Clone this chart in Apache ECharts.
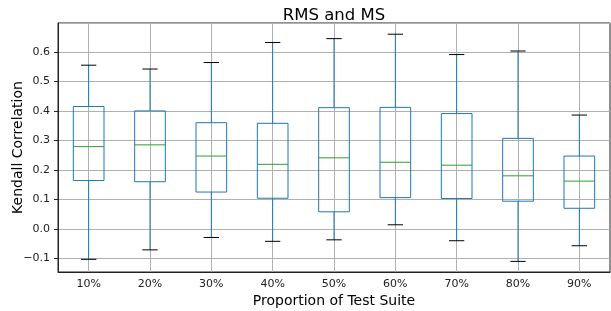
<!DOCTYPE html>
<html><head><meta charset="utf-8">
<script src="https://cdn.jsdelivr.net/npm/echarts@6/dist/echarts.min.js"></script>
<style>html,body{margin:0;padding:0;background:#fff}#c{width:611px;height:311px}</style>
</head><body><div id="c"></div>
<script>
const categories = ['10%','20%','30%','40%','50%','60%','70%','80%','90%'];
const whiskerLow  = [-0.103,-0.071,-0.029,-0.042,-0.037, 0.014,-0.040,-0.110,-0.057];
const q1          = [ 0.164, 0.160, 0.125, 0.104, 0.058, 0.106, 0.103, 0.094, 0.070];
const median      = [ 0.279, 0.285, 0.247, 0.219, 0.241, 0.226, 0.216, 0.180, 0.162];
const q3          = [ 0.415, 0.400, 0.360, 0.358, 0.411, 0.412, 0.391, 0.307, 0.247];
const whiskerHigh = [ 0.555, 0.542, 0.564, 0.632, 0.645, 0.660, 0.591, 0.603, 0.386];

const FONT = 'DejaVu Sans';
const data = categories.map((c, i) => [i, whiskerLow[i], q1[i], median[i], q3[i], whiskerHigh[i]]);

function renderItem(params, api) {
  const i = api.value(0);
  const band = api.size([1, 0])[0];
  const half = band * 0.25, capHalf = band * 0.125;
  const pL = api.coord([i, api.value(1)]);
  const p1 = api.coord([i, api.value(2)]);
  const pM = api.coord([i, api.value(3)]);
  const p3 = api.coord([i, api.value(4)]);
  const pH = api.coord([i, api.value(5)]);
  const x = pL[0];
  const blue = { stroke: '#1f77b4', lineWidth: 1, fill: 'none' };
  return {
    type: 'group',
    children: [
      { type: 'line', shape: { x1: x, y1: p3[1], x2: x, y2: pH[1] }, style: blue },
      { type: 'line', shape: { x1: x, y1: p1[1], x2: x, y2: pL[1] }, style: blue },
      { type: 'rect', shape: { x: x - half, y: p3[1], width: 2 * half, height: p1[1] - p3[1] }, style: blue },
      { type: 'line', shape: { x1: x - half, y1: pM[1], x2: x + half, y2: pM[1] }, style: { stroke: '#2ca02c', lineWidth: 1 } },
      { type: 'line', shape: { x1: x - capHalf, y1: pH[1], x2: x + capHalf, y2: pH[1] }, style: { stroke: '#000', lineWidth: 1 } },
      { type: 'line', shape: { x1: x - capHalf, y1: pL[1], x2: x + capHalf, y2: pL[1] }, style: { stroke: '#000', lineWidth: 1 } }
    ]
  };
}

const chart = echarts.init(document.getElementById('c'), null, { renderer: 'canvas' });
chart.setOption({
  animation: false,
  backgroundColor: '#fff',
  title: {
    text: 'RMS and MS', left: 329, top: 2, textAlign: 'center',
    textStyle: { fontFamily: FONT, fontSize: 16.5, fontWeight: 'normal', color: '#000' }
  },
  grid: { left: 58, right: 1, top: 23, bottom: 39, show: true, borderColor: '#222', borderWidth: 1,
          containLabel: false, outerBoundsMode: 'none' },
  xAxis: {
    type: 'category', data: categories, boundaryGap: true,
    name: 'Proportion of Test Suite', nameLocation: 'middle', nameGap: 22, nameMoveOverlap: false,
    nameTextStyle: { fontFamily: FONT, fontSize: 14, color: '#000' },
    axisLine: { onZero: false, lineStyle: { color: '#222', width: 1 } },
    axisTick: { alignWithLabel: true, length: 4, lineStyle: { color: '#222' } },
    axisLabel: { fontFamily: FONT, fontSize: 11, color: '#222', margin: 7 },
    splitLine: { show: true, alignWithLabel: true, lineStyle: { color: '#b0b0b0', width: 1 } }
  },
  yAxis: {
    type: 'value', min: -0.146, max: 0.698, minInterval: 0.1, maxInterval: 0.1, splitNumber: 8,
    name: 'Kendall Correlation', nameLocation: 'middle', nameGap: 33, nameMoveOverlap: false,
    nameTextStyle: { fontFamily: FONT, fontSize: 14, color: '#000' },
    axisLine: { show: true, lineStyle: { color: '#222', width: 1 } },
    axisTick: { show: true, length: 4, lineStyle: { color: '#222' } },
    axisLabel: {
      fontFamily: FONT, fontSize: 11, color: '#222', margin: 8,
      showMinLabel: false, showMaxLabel: false,
      formatter: v => v.toFixed(1).replace('-', '\u2212')
    },
    splitLine: { show: true, lineStyle: { color: '#b0b0b0', width: 1 } }
  },
  series: [{
    type: 'custom', renderItem: renderItem, data: data,
    encode: { x: 0, y: [1, 2, 3, 4, 5] }
  }]
});
</script>
</body></html>
